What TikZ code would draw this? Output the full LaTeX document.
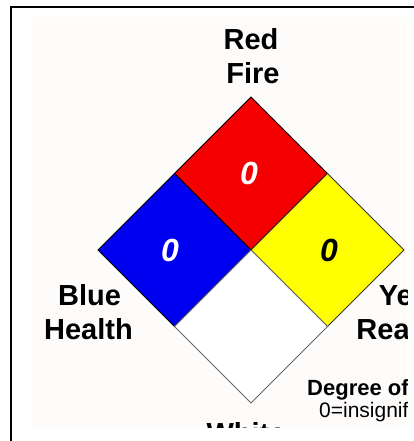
\documentclass[tikz,border=0pt]{standalone}
\usepackage{fontspec}
\setmainfont{Liberation Sans}
\usetikzlibrary{calc}

\definecolor{hzred}{RGB}{245,0,0}
\definecolor{hzblue}{RGB}{0,0,240}
\definecolor{hzyellow}{RGB}{255,255,0}
\definecolor{panel}{RGB}{254,252,251}

\tikzset{
    lbl/.style={font=\fontsize{29}{34}\selectfont\bfseries, anchor=base, inner sep=0pt},
    small lbl/.style={font=\fontsize{21}{24}\selectfont, anchor=base west, inner sep=0pt},
    digit/.style={font=\fontsize{32}{32}\selectfont\bfseries\itshape, inner sep=0pt},
}

\begin{document}
\begin{tikzpicture}[x=1pt,y=-1pt]
\useasboundingbox (0,0) rectangle (414,441);
\fill[white] (0,0) rectangle (414,441);

% === Frame ===
\draw[line width=2pt] (11,441) -- (11,7) -- (414,7);

\begin{scope}
    \clip (32,17) rectangle (407,427);
    \fill[panel] (32,17) rectangle (407,427);

    % === Diamond ===
    \coordinate (mid) at (251,250);
    \foreach \nm/\dx/\dy/\col/\ln in {fire/0/-1/hzred/black, health/-1/0/hzblue/black,
                                      react/1/0/hzyellow/black!80, special/0/1/white/black!60} {
        \coordinate (\nm) at ($(mid)+(\dx*76.5,\dy*76.5)$);
        \fill[\col,draw=\ln,line width=0.8pt,line join=miter]
            (\nm) +(0,-76.5) -- +(76.5,0) -- +(0,76.5) -- +(-76.5,0) -- cycle;
    }

    \node[digit,white] (fireval) at (249,173) {0};
    \node[digit,white] (healthval) at (170,250) {0};
    \node[digit,black] (reactval) at (329,250) {0};

    % === Labels ===
    \node[lbl] (redlbl) at (251,49.3) {Red};
    \node[lbl] (firelbl) at (253,83.3) {Fire};
    \node[lbl] (bluelbl) at (89.5,305) {Blue};
    \node[lbl] (healthlbl) at (88.5,339) {Health};
    \node[lbl] (yellowlbl) at (424,305) {Yellow};
    \node[lbl] (reactlbl) at (425,339) {Reactivity};
    \node[lbl] (whitelbl) at (246,443) {White};

    \node[small lbl,font=\fontsize{22}{24}\selectfont\bfseries] (degreelbl) at (307,395) {Degree of Hazard};
    \node[small lbl] (scalelbl) at (319,417) {0=insignificant};
\end{scope}
\end{tikzpicture}
\end{document}
